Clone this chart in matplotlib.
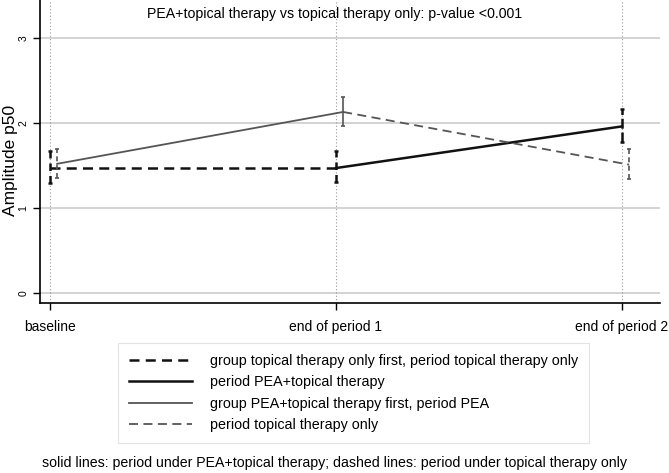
import numpy as np
import matplotlib.pyplot as plt
from matplotlib.lines import Line2D

plt.rcParams['font.family'] = ['Liberation Sans Narrow', 'Liberation Sans', 'DejaVu Sans']

# time points
periods = ['baseline', 'end of period 1', 'end of period 2']
xpos = np.array([0, 1, 2])

# group topical therapy only first (black)
blk_mean = [1.47, 1.47, 1.96]
blk_lo = [1.29, 1.31, 1.78]
blk_hi = [1.67, 1.67, 2.16]

# group PEA+topical therapy first (gray)
gry_mean = [1.52, 2.13, 1.51]
gry_lo = [1.35, 1.96, 1.34]
gry_hi = [1.70, 2.30, 1.69]

gray_off = 0.025
blk = '#111111'
gry = '#555555'

fig = plt.figure(figsize=(6.69, 4.73), dpi=100)
ax = fig.add_axes([0.0598, 0.3594, 0.9267, 0.6406])

# gridlines
for v in [0, 1, 2, 3]:
    ax.axhline(v, color='#cccccc', lw=1.2, zorder=0)
for p in xpos:
    ax.axvline(p, color='#999999', lw=0.8, ls=(0, (1, 2)), zorder=0)

xb = xpos
xg = xpos + gray_off

# black series: dashed first part, solid second part
ax.plot(xb[:2], blk_mean[:2], color=blk, lw=1.8, ls=(0, (4, 2.5)))
ax.plot(xb[1:], blk_mean[1:], color=blk, lw=1.8, ls='-')
# gray series: solid first part, dashed second part
ax.plot(xg[:2], gry_mean[:2], color=gry, lw=1.3, ls='-')
ax.plot(xg[1:], gry_mean[1:], color=gry, lw=1.3, ls=(0, (5, 3)))

# confidence interval caps
for i in range(3):
    ls_b = (0, (3, 2)) if i < 2 else (0, (4, 1.5))
    ax.vlines(xb[i], blk_lo[i], blk_hi[i], color=blk, lw=1.8, ls=ls_b)
    ax.hlines([blk_lo[i], blk_hi[i]], xb[i] - 0.008, xb[i] + 0.008, color=blk, lw=1.8)
    ls_g = '-' if i == 1 else (0, (3, 2))
    ax.vlines(xg[i], gry_lo[i], gry_hi[i], color=gry, lw=1.2, ls=ls_g)
    ax.hlines([gry_lo[i], gry_hi[i]], xg[i] - 0.008, xg[i] + 0.008, color=gry, lw=1.2)

ax.set_xlim(-0.035, 2.133)
ax.set_ylim(-0.1176, 3.447)
ax.set_xticks(xpos)
ax.set_xticklabels(periods, fontsize=10)
ax.set_yticks([0, 1, 2, 3])
ax.set_yticklabels(['0', '1', '2', '3'], fontsize=7.5, rotation=90, va='center')
ax.set_ylabel('Amplitude p50', fontsize=12.5)
ax.yaxis.set_label_coords(-0.035, 0.47)
ax.tick_params(axis='both', length=5, width=1, color='black')
ax.tick_params(axis='x', pad=7)
for s in ['top', 'right']:
    ax.spines[s].set_visible(False)
for s in ['left', 'bottom']:
    ax.spines[s].set_linewidth(1.2)

fig.text(0.5, 1 - 14 / 473, 'PEA+topical therapy vs topical therapy only: p-value <0.001',
         ha='center', va='center', fontsize=10.2)

handles = [
    Line2D([], [], color=blk, lw=1.8, ls=(0, (4, 2.5))),
    Line2D([], [], color=blk, lw=1.8, ls='-'),
    Line2D([], [], color=gry, lw=1.3, ls='-'),
    Line2D([], [], color=gry, lw=1.3, ls=(0, (5, 3))),
]
labels = [
    'group topical therapy only first, period topical therapy only',
    'period PEA+topical therapy',
    'group PEA+topical therapy first, period PEA',
    'period topical therapy only',
]
leg = fig.legend(handles, labels, loc='upper left', bbox_to_anchor=(118 / 669, 1 - 343 / 473),
                 fontsize=10.3, handlelength=4.4, handletextpad=1.3, labelspacing=0.52,
                 frameon=True, fancybox=False, edgecolor='#dddddd', borderpad=0.75,
                 borderaxespad=0)
leg.get_frame().set_linewidth(0.8)

fig.text(0.5, 1 - 463 / 473,
         'solid lines: period under PEA+topical therapy; dashed lines: period under topical therapy only',
         ha='center', va='center', fontsize=10.2)

fig.savefig('out.png', dpi=100)
